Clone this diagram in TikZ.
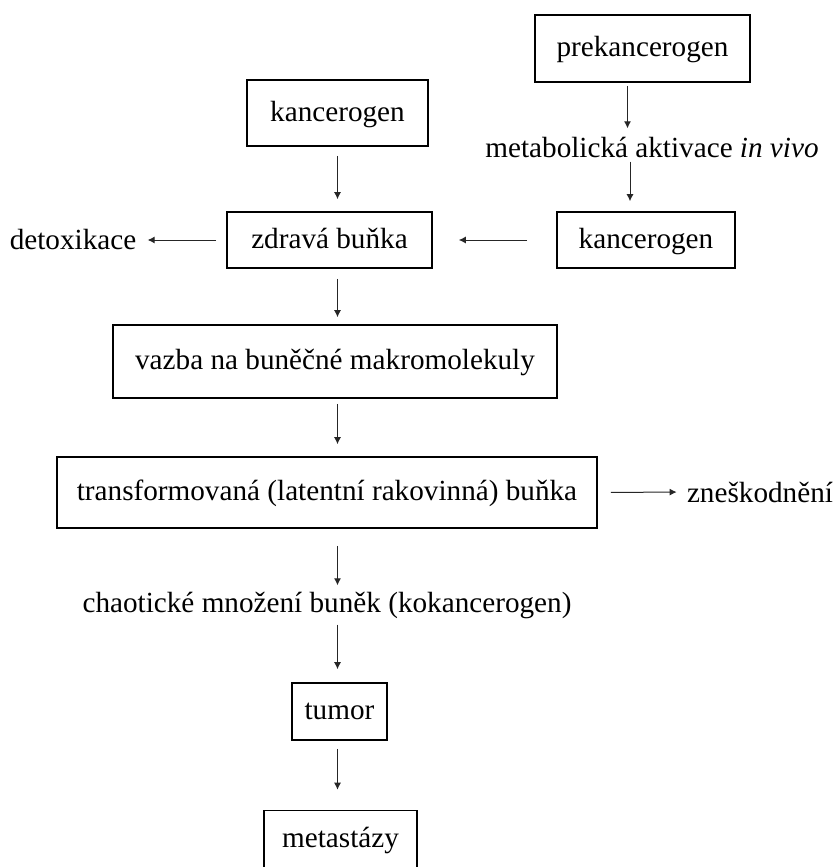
\documentclass[tikz,border=0pt]{standalone}
\usepackage{fontspec}
\setmainfont{Liberation Serif}
\usetikzlibrary{positioning, arrows.meta}

\tikzset{
  box/.style={draw, line width=0.8pt, inner sep=0pt, align=center, text height=10.5pt, text depth=2.5pt},
  label/.style={inner sep=0pt},
  flow/.style={-{Latex[length=3.5pt,width=3.5pt]}, line width=0.5pt, black!85},
}

\begin{document}
\begin{tikzpicture}[x=0.5pt, y=-0.5pt, font=\fontsize{14.6}{17}\selectfont]
  \useasboundingbox[fill=white] (0,0) rectangle (834,867);
  % boxes
  \node (prekanc) [box, minimum width=107.5pt, minimum height=33.5pt] at (642.5,48.5) {prekancerogen};
  \node (kancL) [box, minimum width=90.5pt, minimum height=33pt] at (337.5,113) {kancerogen};
  \node (zdrava) [box, minimum width=102.5pt, minimum height=28pt] at (329.5,240) {zdravá buňka};
  \node (kancR) [box, minimum width=89pt, minimum height=28pt] at (646,240) {kancerogen};
  \node (vazba) [box, minimum width=222pt, minimum height=36.5pt] at (335,361.5) {vazba na buněčné makromolekuly};
  \node (transf) [box, minimum width=270pt, minimum height=35.5pt] at (327,492.5) {transformovaná (latentní rakovinná) buňka};
  \node (tumor) [box, minimum width=47.5pt, minimum height=28.5pt] at (339.5,711.5) {tumor};
  \node (metast) [box, minimum width=76.5pt, minimum height=29pt] at (340.5,839.5) {metastázy};
  % free texts
  \node (metab) [label] at (652,147) {metabolická aktivace \textit{in vivo}};
  \node (detox) [label] at (73,240) {detoxikace};
  \node (znesk) [label] at (760,492) {zneškodnění};
  \node (chaos) [label] at (327,605) {chaotické množení buněk (kokancerogen)};
  % arrows
  \draw[flow, shorten <=1.5pt, shorten >=4pt] ([xshift=-7.5pt]prekanc.south) -- ([xshift=-7.5pt]prekanc.south |- metab.north);
  \draw[flow, shorten <=2pt, shorten >=5pt] ([xshift=-11pt]metab.south) -- ([xshift=-11pt]metab.south |- kancR.north);
  \draw[flow, shorten <=4.5pt, shorten >=6pt] (kancL.south) -- (kancL.south |- zdrava.north);
  \draw[flow, shorten <=14.5pt, shorten >=13pt] (kancR.west) -- (zdrava.east);
  \draw[flow, shorten <=5pt, shorten >=5.5pt] (zdrava.west) -- (detox.east);
  \draw[flow, shorten <=5pt, shorten >=3.5pt] (zdrava.south -| kancL.south) -- (vazba.north -| kancL.south);
  \draw[flow, shorten <=2.5pt, shorten >=6pt] (vazba.south -| kancL.south) -- (transf.north -| kancL.south);
  \draw[flow, shorten <=6.5pt, shorten >=5pt] (transf.east) -- (znesk.west);
  \draw[flow, shorten <=8.5pt, shorten >=3pt] (transf.south -| kancL.south) -- (chaos.north -| kancL.south);
  \draw[flow, shorten <=3pt, shorten >=6.5pt] (chaos.south -| kancL.south) -- (tumor.north -| kancL.south);
  \draw[flow, shorten <=4pt, shorten >=10pt] (tumor.south -| kancL.south) -- (metast.north -| kancL.south);
\end{tikzpicture}
\end{document}
